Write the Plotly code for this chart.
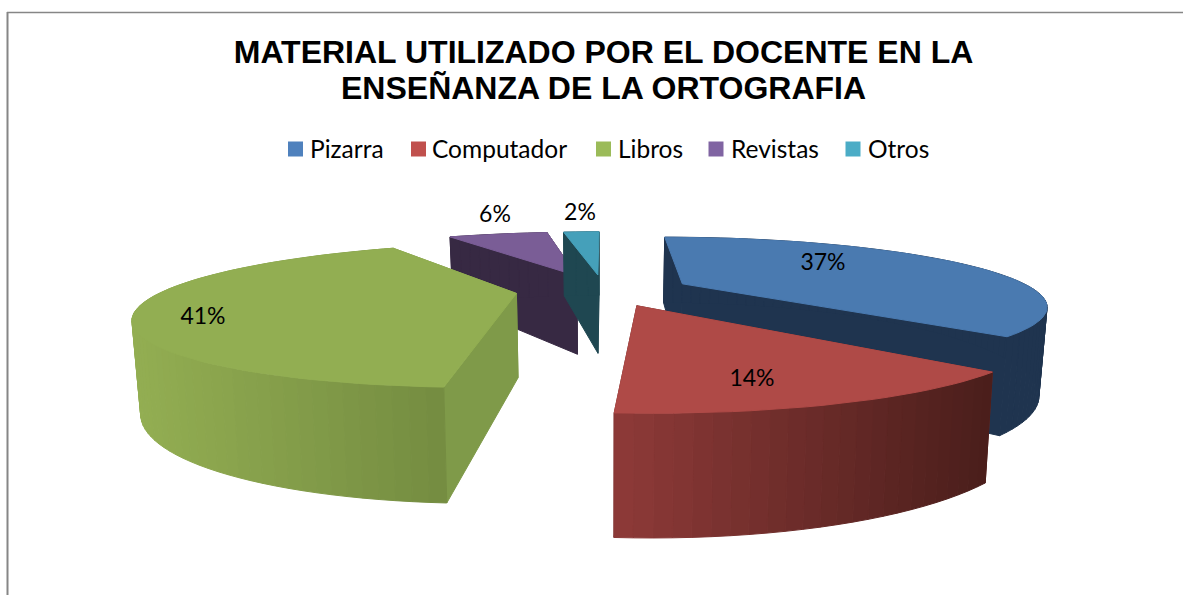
import numpy as np
import plotly.graph_objects as go

# chart data (shares, labels show them rounded)
categories = ["Pizarra", "Computador", "Libros", "Revistas", "Otros"]
percents = [37.4, 13.7, 40.6, 6.1, 2.2]

# styling, per slice
top_colors = ["#4A7AB0", "#AF4A47", "#92AE52", "#7A5D96", "#45A0BA"]
legend_colors = ["#4F81BD", "#C0504D", "#9BBB59", "#8064A2", "#4BACC6"]
radial_colors = ["#1F344F", "#6E2E2C", "#7F9A49", "#372943", "#1F4751"]
arc_left = ["#1F344F", "#8E3A38", "#93AE52", "#372943", "#1F4751"]
arc_right = ["#1F344F", "#4A1E1B", "#748C41", "#372943", "#1F4751"]
label_x = [823, 752, 203, 495, 580]
label_y = [264.5, 380.5, 318.5, 216.5, 214.5]
legend_box_x = [295.5, 418.5, 603.5, 716, 853]
legend_text_x = [310, 432, 618, 731, 868]
draw_order = [3, 4, 0, 2, 1]

# perspective camera fitted to the picture
VANISH_X = 603.5
TOP_HORIZON, TOP_SCALE = 75, 726
BOTTOM_HORIZON, BOTTOM_SCALE = 86, 970
X_SCALE_TOP, X_SCALE_BOTTOM = 1188, 1166
DEPTH = 3.38
EXPLODE = 0.25


def project(gx, gy, bottom=False):
    w = 1.0 / (DEPTH + np.asarray(gy, dtype=float))
    gx = np.asarray(gx, dtype=float)
    if bottom:
        return VANISH_X + X_SCALE_BOTTOM * gx * w, BOTTOM_HORIZON + BOTTOM_SCALE * w
    return VANISH_X + X_SCALE_TOP * gx * w, TOP_HORIZON + TOP_SCALE * w


def mix(c1, c2, t):
    a = [int(c1[i:i + 2], 16) for i in (1, 3, 5)]
    b = [int(c2[i:i + 2], 16) for i in (1, 3, 5)]
    return "rgb({},{},{})".format(*[round(p + (q - p) * t) for p, q in zip(a, b)])


def polygon(xs, ys, color):
    return go.Scatter(
        x=list(xs) + [xs[0]], y=list(ys) + [ys[0]], mode="lines", fill="toself",
        fillcolor=color, line=dict(color=color, width=1), showlegend=False, hoverinfo="skip",
    )


fig = go.Figure()

edges = np.cumsum([0] + percents) / sum(percents) * 2 * np.pi
for i in draw_order:
    a0, a1 = edges[i], edges[i + 1]
    mid = (a0 + a1) / 2
    cx, cy = EXPLODE * np.sin(mid), EXPLODE * np.cos(mid)
    angles = np.linspace(a0, a1, max(int((a1 - a0) / np.radians(2)), 3) + 1)
    gx, gy = cx + np.sin(angles), cy + np.cos(angles)
    tx, ty = project(gx, gy)
    bx, by = project(gx, gy, bottom=True)
    apex_tx, apex_ty = project(cx, cy)
    apex_bx, apex_by = project(cx, cy, bottom=True)

    # radial walls, farther one first
    ends = sorted([0, -1], key=lambda k: -gy[k])
    for k in ends:
        fig.add_trace(polygon(
            [float(apex_tx), tx[k], bx[k], float(apex_bx)],
            [float(apex_ty), ty[k], by[k], float(apex_by)],
            radial_colors[i],
        ))

    # outer wall, cut in strips for the gradient
    lo, hi = tx.min(), tx.max()
    strips = sorted(range(len(angles) - 1), key=lambda k: -(gy[k] + gy[k + 1]))
    for k in strips:
        t = ((tx[k] + tx[k + 1]) / 2 - lo) / (hi - lo)
        fig.add_trace(polygon(
            [tx[k], tx[k + 1], bx[k + 1], bx[k]],
            [ty[k], ty[k + 1], by[k + 1], by[k]],
            mix(arc_left[i], arc_right[i], t),
        ))

    fig.add_trace(polygon(
        [float(apex_tx)] + list(tx), [float(apex_ty)] + list(ty), top_colors[i],
    ))

fig.add_trace(go.Scatter(
    x=label_x, y=label_y, mode="text", text=[f"{round(p)}%" for p in percents],
    textfont=dict(family="Lato", size=23, color="#000000"),
    showlegend=False, hoverinfo="skip",
))

# legend row
fig.add_trace(go.Scatter(
    x=legend_box_x, y=[149] * len(categories), mode="markers",
    marker=dict(symbol="square", size=15, color=legend_colors),
    showlegend=False, hoverinfo="skip",
))
fig.add_trace(go.Scatter(
    x=legend_text_x, y=[152] * len(categories), mode="text", text=categories,
    textposition="middle right",
    textfont=dict(family="Lato", size=24.5, color="#000000"),
    showlegend=False, hoverinfo="skip",
))

fig.update_layout(
    width=1183, height=595, margin=dict(l=0, r=0, t=0, b=0),
    paper_bgcolor="#FFFFFF", plot_bgcolor="#FFFFFF",
    showlegend=False,
    title=dict(
        text="<b>MATERIAL UTILIZADO POR EL DOCENTE EN LA</b>",
        x=603.5 / 1183, xanchor="center", y=1 - 52 / 595, yanchor="middle",
        font=dict(family="Liberation Sans", size=32, color="#000000"),
    ),
    annotations=[dict(
        text="<b>ENSEÑANZA DE LA ORTOGRAFIA</b>", xref="x", yref="y", x=603, y=88,
        showarrow=False, font=dict(family="Liberation Sans", size=32, color="#000000"),
    )],
    xaxis=dict(range=[0, 1183], visible=False, fixedrange=True),
    yaxis=dict(range=[595, 0], visible=False, fixedrange=True),
    shapes=[
        dict(type="line", xref="x", yref="y", x0=7, x1=1183, y0=12.5, y1=12.5, line=dict(color="#868686", width=1.5)),
        dict(type="line", xref="x", yref="y", x0=7.5, x1=7.5, y0=12, y1=595, line=dict(color="#868686", width=2)),
    ],
)

fig.write_html(
    "out.html",
    config={"displayModeBar": False},
    post_script="document.body.style.margin='0';document.body.style.overflow='hidden';",
)
